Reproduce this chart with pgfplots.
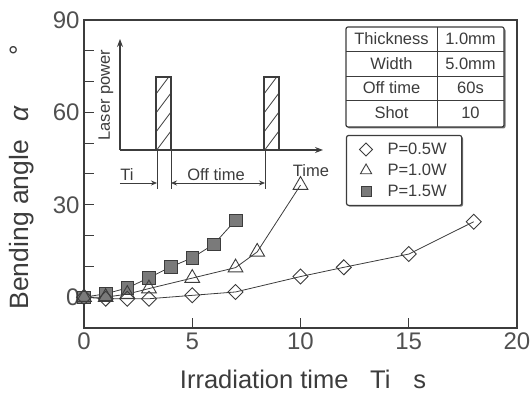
\documentclass[border=0pt]{standalone}
\usepackage{fontspec}
\setmainfont{Liberation Sans}
\usepackage{pgfplots}
\pgfplotsset{compat=1.18}
\usetikzlibrary{arrows.meta,shadows}
\definecolor{ink}{HTML}{3C3C3C}
\definecolor{sqfill}{HTML}{7A7A7A}
\begin{document}
\begin{tikzpicture}
\begin{axis}[
  scale only axis, width=433pt, height=308pt,
  xmin=0, xmax=20, ymin=-10, ymax=90,
  xtick={0,5,10,15,20}, ytick={0,30,60,90},
  minor ytick={10,20,40,50,70,80},
  tick pos=left, tick align=inside,
  major tick length=10pt, minor tick length=10pt,
  axis line style={ink, line width=1.3pt},
  every tick/.style={ink, line width=1pt},
  /pgf/number format/assume math mode=true,
  tick label style={font=\fontsize{24}{24}\selectfont, text=ink!90},
  xticklabel style={yshift=-1pt},
  yticklabel style={xshift=-1pt},
  xlabel={Irradiation time\hspace{0.85em}Ti\hspace{0.9em}s},
  xlabel style={at={(axis description cs:0.506,-0.195)}, anchor=base,
    font=\fontsize{25.5}{25.5}\selectfont, text=ink},
  ylabel={Bending angle\hspace{0.7em}{\itshape α}\hspace{1.9em}°},
  ylabel style={at={(axis description cs:-0.129,0.489)}, anchor=base,
    font=\fontsize{26.5}{26.5}\selectfont, text=ink},
  legend style={at={(axis description cs:0.605,0.627)}, anchor=north west,
    draw=ink, fill=white, line width=1.2pt, rounded corners=2pt,
    drop shadow={shadow xshift=1.3pt, shadow yshift=-1.3pt, fill=ink!70, opacity=1},
    font=\fontsize{16.5}{18}\selectfont, text=ink,
    row sep=4pt, inner xsep=13pt, inner ysep=5.5pt},
  legend cell align=left,
]
\addlegendimage{only marks, mark=square, mark size=4.6pt, mark options={rotate=45, fill=white, draw=ink, line width=0.9pt}}
\addlegendentry{\hspace{13pt}P=0.5W}
\addlegendimage{only marks, mark=triangle, mark size=6.5pt, mark options={fill=white, draw=ink, line width=0.9pt}}
\addlegendentry{\hspace{13pt}P=1.0W}
\addlegendimage{only marks, mark=square*, mark size=5pt, mark options={fill=sqfill, draw=ink, line width=0.6pt}}
\addlegendentry{\hspace{13pt}P=1.5W}
% P=1.5W
\addplot[forget plot, ink, line width=0.8pt, mark=square*, mark size=6.3pt,
  mark options={fill=sqfill, draw=ink, line width=0.6pt}]
  coordinates {(0,0) (1,1.1) (2,3) (3,6.3) (4,9.8) (5,12.8) (6,17.2) (7,25)};
% P=0.5W
\addplot[forget plot, ink, line width=0.8pt, mark=square, mark size=5.3pt,
  mark options={rotate=45, fill=white, draw=ink, line width=0.9pt}]
  coordinates {(0,0) (1,-0.5) (2,-0.5) (3,-0.5) (5,0.6) (7,1.7) (10,6.7) (12,9.7) (15,14) (18,24.5)};
% P=1.0W
\addplot[forget plot, ink, line width=0.8pt, mark=triangle, mark size=8.5pt,
  mark options={fill=white, draw=ink, line width=0.9pt}]
  coordinates {(0,0) (1,0) (2,1) (3,2.8) (5,6.2) (7,9.6) (8,14.7) (10,36.4)};
\end{axis}
\begin{scope}[shift={(current axis.north west)}, xshift=-84pt, yshift=20pt, x=1pt, y=-1pt]
  % inset: laser pulse diagram
  \draw[ink, line width=1.1pt, -{Stealth[length=8pt,width=6pt]}] (120,150) -- (120,39);
  \draw[ink, line width=1.1pt, -{Stealth[length=8pt,width=6pt]}] (120,150) -- (323,150);
  \foreach \xa in {156,264}{
    \fill[white] (\xa,150) rectangle (\xa+15,77);
    \begin{scope}
      \clip (\xa,150) rectangle (\xa+15,77);
      \foreach \yb in {170,151,132,113,94}{
        \draw[ink, line width=0.8pt] (\xa,\yb) -- (\xa+15,\yb-20);
      }
    \end{scope}
    \draw[ink, line width=1.1pt] (\xa,150) rectangle (\xa+15,77);
  }
  \node[rotate=90, anchor=base, text=ink, font=\fontsize{16.5}{16.5}\selectfont] at (110,95) {Laser power};
  \draw[ink, line width=0.8pt] (157,150) -- (157,189);
  \draw[ink, line width=0.8pt] (171,150) -- (171,189);
  \draw[ink, line width=0.8pt] (265,150) -- (265,189);
  \draw[ink, line width=0.8pt, -{Stealth[length=6pt,width=5pt]}] (120,183) -- (157,183);
  \draw[ink, line width=0.8pt, {Stealth[length=6pt,width=5pt]}-{Stealth[length=6pt,width=5pt]}] (171,183) -- (265,183);
  \node[anchor=base, text=ink, font=\fontsize{16.5}{16.5}\selectfont] at (127,181) {Ti};
  \node[anchor=base, text=ink, font=\fontsize{16.5}{16.5}\selectfont] at (216,181) {Off time};
  \node[anchor=base, text=ink, font=\fontsize{16.5}{16.5}\selectfont] at (311,177) {Time};
  % parameter table
  \fill[ink!70] (347.5,28.5) [rounded corners=2pt] rectangle (505.5,128.5);
  \draw[ink, fill=white, line width=1.2pt, rounded corners=2pt] (346,27) rectangle (504,127);
  \draw[ink, line width=0.8pt] (437,27) -- (437,127);
  \draw[ink, line width=0.8pt] (346,51) -- (504,51);
  \draw[ink, line width=0.8pt] (346,76) -- (504,76);
  \draw[ink, line width=0.8pt] (346,100) -- (504,100);
  \begin{scope}[every node/.style={text=ink, font=\fontsize{16.5}{16.5}\selectfont, anchor=base}]
    \node at (391.5,45) {Thickness}; \node at (470.5,45) {1.0mm};
    \node at (391.5,70) {Width};     \node at (470.5,70) {5.0mm};
    \node at (391.5,94) {Off time};  \node at (470.5,94) {60s};
    \node at (391.5,119) {Shot};     \node at (470.5,119) {10};
  \end{scope}
  \pgfresetboundingbox
  \path[use as bounding box] (0,0) rectangle (531,396);
\end{scope}
\end{tikzpicture}
\end{document}
